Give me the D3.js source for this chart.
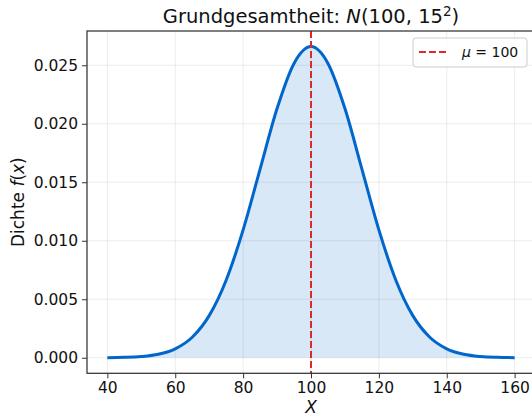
<!DOCTYPE html>
<html>
<head>
<meta charset="utf-8">
<script src="https://cdn.jsdelivr.net/npm/d3@7"></script>
<style>
  body { margin: 0; background: #fff; }
  svg { display: block; font-family: "DejaVu Sans", sans-serif; }
</style>
</head>
<body>
<div id="chart"></div>
<script>
// density values, every 5 units
var xValues = [40, 45, 50, 55, 60, 65, 70, 75, 80, 85, 90, 95, 100,
               105, 110, 115, 120, 125, 130, 135, 140, 145, 150, 155, 160];
var densityValues = [0.0000089, 0.000032, 0.000103, 0.000295, 0.00076, 0.00175, 0.0036,
                     0.00663, 0.01093, 0.01613, 0.0213, 0.02516, 0.026596,
                     0.02516, 0.0213, 0.01613, 0.01093, 0.00663, 0.0036, 0.00175,
                     0.00076, 0.000295, 0.000103, 0.000032, 0.0000089];
var xTicks = [40, 60, 80, 100, 120, 140, 160];
var yTicks = [0.000, 0.005, 0.010, 0.015, 0.020, 0.025];
var meanValue = 100;

var width = 532, height = 418;
var margin = {left: 87, top: 31, right: 535, bottom: 373.3};

var svg = d3.select("#chart").append("svg")
    .attr("width", width)
    .attr("height", height);

var x = d3.scaleLinear().domain([34, 166]).range([margin.left, margin.right]);
var y = d3.scaleLinear().domain([-0.00133, 0.02793]).range([margin.bottom, margin.top]);

var points = xValues.map(function(v, i) { return [v, densityValues[i]]; });

// grid
var grid = svg.append("g");
grid.selectAll(".gx").data(xTicks).enter().append("line")
    .attr("x1", d => x(d)).attr("x2", d => x(d))
    .attr("y1", margin.top).attr("y2", margin.bottom)
    .attr("stroke", "#b0b0b0").attr("stroke-opacity", 0.3).attr("stroke-width", 0.8);
grid.selectAll(".gy").data(yTicks).enter().append("line")
    .attr("x1", margin.left).attr("x2", margin.right)
    .attr("y1", d => y(d)).attr("y2", d => y(d))
    .attr("stroke", "#b0b0b0").attr("stroke-opacity", 0.3).attr("stroke-width", 0.8);

// fill + curve
var area = d3.area()
    .x(d => x(d[0])).y0(y(0)).y1(d => y(d[1]))
    .curve(d3.curveMonotoneX);
var line = d3.line()
    .x(d => x(d[0])).y(d => y(d[1]))
    .curve(d3.curveMonotoneX);

svg.append("path").datum(points)
    .attr("d", area)
    .attr("fill", "#0066cc").attr("fill-opacity", 0.15);
svg.append("path").datum(points)
    .attr("d", line)
    .attr("fill", "none").attr("stroke", "#0066cc").attr("stroke-width", 3);

// mean line
svg.append("line")
    .attr("x1", x(meanValue)).attr("x2", x(meanValue))
    .attr("y1", margin.top).attr("y2", margin.bottom)
    .attr("stroke", "#dc2a2a").attr("stroke-width", 2)
    .attr("stroke-dasharray", "7,3");

// axes
var xAxis = svg.append("g")
    .attr("transform", "translate(0," + margin.bottom + ")")
    .call(d3.axisBottom(x).tickValues(xTicks).tickSize(5).tickPadding(4).tickFormat(d3.format("d")));
var yAxis = svg.append("g")
    .attr("transform", "translate(" + margin.left + ",0)")
    .call(d3.axisLeft(y).tickValues(yTicks).tickSize(5).tickPadding(4).tickFormat(d3.format(".3f")));

[xAxis, yAxis].forEach(function(a) {
    a.select(".domain").remove();
    a.selectAll("line").attr("stroke", "#333").attr("stroke-width", 1);
    a.selectAll("text").attr("font-family", "DejaVu Sans").attr("font-size", 15.5).attr("fill", "#111");
});

// frame
svg.append("rect")
    .attr("x", margin.left).attr("y", margin.top)
    .attr("width", margin.right - margin.left).attr("height", margin.bottom - margin.top)
    .attr("fill", "none").attr("stroke", "#333").attr("stroke-width", 1.25);

// title
var title = svg.append("text")
    .attr("x", (margin.left + margin.right) / 2).attr("y", 23)
    .attr("text-anchor", "middle").attr("font-size", 19.5).attr("fill", "#111");
title.append("tspan").text("Grundgesamtheit: ");
title.append("tspan").attr("font-style", "italic").text("N");
title.append("tspan").text("(100, 15");
title.append("tspan").attr("font-size", 13.5).attr("dy", -7.5).text("2");
title.append("tspan").attr("dy", 7.5).text(")");

// x label
svg.append("text")
    .attr("x", x(meanValue)).attr("y", 413)
    .attr("text-anchor", "middle").attr("font-size", 17).attr("font-style", "italic")
    .attr("fill", "#111").text("X");

// y label
var ylab = svg.append("text")
    .attr("transform", "translate(24," + ((margin.top + margin.bottom) / 2) + ") rotate(-90)")
    .attr("text-anchor", "middle").attr("font-size", 17).attr("fill", "#111");
ylab.append("tspan").text("Dichte ");
ylab.append("tspan").attr("font-style", "italic").text("f");
ylab.append("tspan").text("(");
ylab.append("tspan").attr("font-style", "italic").text("x");
ylab.append("tspan").text(")");

// legend
var lg = svg.append("g");
lg.append("rect")
    .attr("x", 413).attr("y", 38).attr("width", 114).attr("height", 29).attr("rx", 3)
    .attr("fill", "#fff").attr("fill-opacity", 0.8)
    .attr("stroke", "#ccc").attr("stroke-width", 1);
lg.append("line")
    .attr("x1", 419).attr("x2", 448).attr("y1", 52).attr("y2", 52)
    .attr("stroke", "#dc2a2a").attr("stroke-width", 2).attr("stroke-dasharray", "7,3");
var lt = lg.append("text").attr("x", 462).attr("y", 57).attr("font-size", 14).attr("fill", "#111");
lt.append("tspan").attr("font-style", "italic").text("μ");
lt.append("tspan").text(" = 100");
</script>
</body>
</html>
